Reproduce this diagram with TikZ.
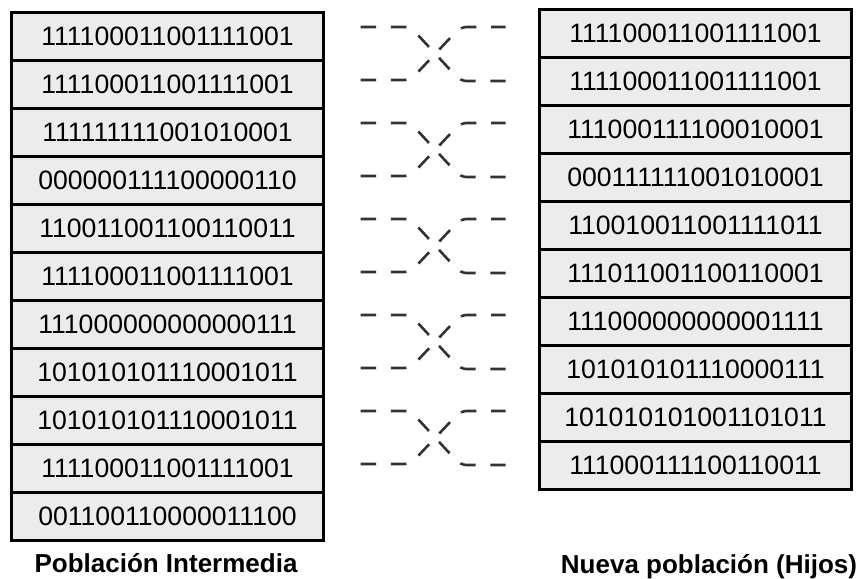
\documentclass[tikz,border=0pt]{standalone}
\usepackage{fontspec}
\setmainfont{Liberation Sans}
\begin{document}
\begin{tikzpicture}[x=0.5pt,y=-0.5pt,
	fila/.style={draw,line width=1.5pt,fill=gray!15,minimum width=156pt,minimum height=24pt,outer sep=0pt,inner sep=0pt,font=\fontsize{13.3}{15}\selectfont},
	cruce/.style={draw=black!80,line width=1.3pt,rounded corners=3pt,dash pattern=on 7.8pt off 7.4pt},
	titulo/.style={anchor=base,font=\bfseries\fontsize{13}{15}\selectfont}]
					\useasboundingbox (0,0) rectangle (866,578);
					\node[fila] (l1) at (167.5,36) {111100011001111001};
					\node[fila] (l2) at (167.5,84) {111100011001111001};
					\node[fila] (l3) at (167.5,132) {111111111001010001};
					\node[fila] (l4) at (167.5,180) {000000111100000110};
					\node[fila] (l5) at (167.5,228) {110011001100110011};
					\node[fila] (l6) at (167.5,276) {111100011001111001};
					\node[fila] (l7) at (167.5,324) {111000000000000111};
					\node[fila] (l8) at (167.5,372) {101010101110001011};
					\node[fila] (l9) at (167.5,420) {101010101110001011};
					\node[fila] (l10) at (167.5,468) {111100011001111001};
					\node[fila] (l11) at (167.5,516) {001100110000011100};
					\node[fila] (r1) at (695.5,33) {111100011001111001};
					\node[fila] (r2) at (695.5,81) {111100011001111001};
					\node[fila] (r3) at (695.5,129) {111000111100010001};
					\node[fila] (r4) at (695.5,177) {000111111001010001};
					\node[fila] (r5) at (695.5,225) {110010011001111011};
					\node[fila] (r6) at (695.5,273) {111011001100110001};
					\node[fila] (r7) at (695.5,321) {111000000000001111};
					\node[fila] (r8) at (695.5,369) {101010101110000111};
					\node[fila] (r9) at (695.5,417) {101010101001101011};
					\node[fila] (r10) at (695.5,465) {111000111100110011};
					\node[titulo] (t1) at (166,572) {Población Intermedia};
					\node[titulo] (t2) at (709,573) {Nueva población (Hijos)};
					\draw[cruce] ([xshift=18.5pt,yshift=4.5pt]l1.east) -- ++(50,0) -- ([xshift=-39.5pt]r2.west) -- ([xshift=-17pt]r2.west);
					\draw[cruce] ([xshift=18.5pt,yshift=2pt]l2.east) -- ++(50,0) -- ([xshift=-39.5pt,yshift=3pt]r1.west) -- ([xshift=-17pt,yshift=3pt]r1.west);
					\draw[cruce] ([xshift=18.5pt,yshift=4.5pt]l3.east) -- ++(50,0) -- ([xshift=-39.5pt]r4.west) -- ([xshift=-17pt]r4.west);
					\draw[cruce] ([xshift=18.5pt,yshift=2pt]l4.east) -- ++(50,0) -- ([xshift=-39.5pt,yshift=3pt]r3.west) -- ([xshift=-17pt,yshift=3pt]r3.west);
					\draw[cruce] ([xshift=18.5pt,yshift=4.5pt]l5.east) -- ++(50,0) -- ([xshift=-39.5pt]r6.west) -- ([xshift=-17pt]r6.west);
					\draw[cruce] ([xshift=18.5pt,yshift=2pt]l6.east) -- ++(50,0) -- ([xshift=-39.5pt,yshift=3pt]r5.west) -- ([xshift=-17pt,yshift=3pt]r5.west);
					\draw[cruce] ([xshift=18.5pt,yshift=4.5pt]l7.east) -- ++(50,0) -- ([xshift=-39.5pt]r8.west) -- ([xshift=-17pt]r8.west);
					\draw[cruce] ([xshift=18.5pt,yshift=2pt]l8.east) -- ++(50,0) -- ([xshift=-39.5pt,yshift=3pt]r7.west) -- ([xshift=-17pt,yshift=3pt]r7.west);
					\draw[cruce] ([xshift=18.5pt,yshift=4.5pt]l9.east) -- ++(50,0) -- ([xshift=-39.5pt]r10.west) -- ([xshift=-17pt]r10.west);
					\draw[cruce] ([xshift=18.5pt,yshift=2pt]l10.east) -- ++(50,0) -- ([xshift=-39.5pt,yshift=3pt]r9.west) -- ([xshift=-17pt,yshift=3pt]r9.west);
				\end{tikzpicture}
\end{document}
